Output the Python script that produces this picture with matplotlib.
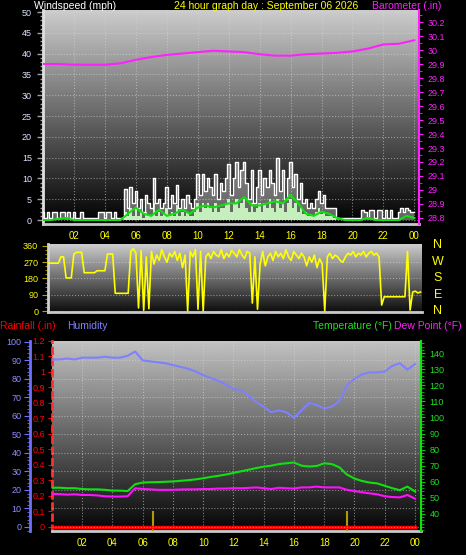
import numpy as np
import matplotlib
matplotlib.use('Agg')
import matplotlib.pyplot as plt
from matplotlib.ticker import MultipleLocator, FixedLocator, FuncFormatter

plt.rcParams['font.family'] = ['Liberation Sans', 'DejaVu Sans']

W, H = 466, 555

# ---- data -------------------------------------------------------------
# wind, 10 minute samples (6 per hour row)
wind_gust = [
    2, 0.5, 2, 0.5, 2, 2,
    0.5, 2, 2, 0.5, 2, 0.5,
    2, 0.5, 0.5, 2, 0.5, 0.5,
    0.5, 0.5, 0.5, 0.5, 2, 2,
    0.5, 2, 2, 0.5, 2, 0.5,
    0.5, 0.5, 7.5, 3, 8, 4,
    7, 3, 5, 2, 6, 4,
    3, 10, 4, 5, 3, 4,
    8, 3, 6, 4, 8.5, 3,
    5, 3, 6, 4, 3, 5,
    11, 6, 11, 7, 10, 8,
    6, 11, 5, 9, 7, 10,
    13.5, 6, 10, 14, 8, 12,
    14, 9, 5, 12, 4, 8,
    12, 6, 10, 8, 12, 9,
    6, 15, 7, 12, 5, 10,
    14, 8, 11, 5, 9, 4,
    5, 3, 4, 3, 5, 7,
    4, 6, 3, 3, 3, 3,
    0.5, 0.5, 0.5, 0.5, 0.5, 0.5,
    0.5, 0.5, 0.5, 0.5, 2.5, 2,
    0.5, 2.5, 2.5, 0.5, 2.5, 2.5,
    0.5, 2.5, 0.5, 2.5, 0.5, 0.5,
    2, 3, 2, 3, 2.5, 2,
    2]
wind_speed = [
    0, 0, 0, 0, 0, 0,
    0, 0, 0, 0, 0, 0,
    0, 0, 0, 0, 0, 0,
    0, 0, 0, 0, 0, 0,
    0, 0, 0, 0, 0, 0,
    0, 0, 2, 1, 3, 1,
    3, 1, 2, 0.5, 2, 1,
    1, 4, 1, 2, 1, 1.5,
    3, 1, 2, 1, 3.5, 1,
    2, 1, 2, 1, 1, 2,
    4, 2, 4, 3, 4, 3,
    2, 4, 2, 3, 3, 4,
    5, 2, 4, 5, 3, 4,
    5, 3, 2, 4, 2, 3,
    4, 2, 4, 3, 5, 3,
    2, 5, 3, 4, 2, 4,
    5, 3, 4, 2, 3, 1.5,
    2, 1, 1.5, 1, 2, 3,
    1.5, 2, 1, 1, 1, 0.5,
    0, 0, 0, 0, 0, 0,
    0, 0, 0, 0, 0, 0,
    0, 0, 0, 0, 0, 0,
    0, 0, 0, 0, 0, 0,
    0, 0, 0, 0, 0, 0,
    0]
# wind average, 30 minute samples
wind_avg = [0, 0, 0.3, 0.5, 0, 0, 0, 0, 0, 0, 0, 1.5, 3, 1.5, 1, 2.5,
            1, 1.5, 2.5, 1.5, 3, 3.5, 3, 3.5, 4, 4, 5.5, 3.5, 3.5, 4,
            4.5, 4, 6, 4, 1.5, 1, 2, 1.5, 0.5, 0, 0, 0, 0.5, 0, 0, 0,
            0, 1, 0.5]
# barometer, hourly
baro = [29.90, 29.90, 29.895, 29.895, 29.895, 29.905, 29.93, 29.95, 29.965,
        29.975, 29.985, 29.995, 29.99, 29.985, 29.97, 29.96, 29.96, 29.97,
        29.975, 29.98, 29.99, 30.01, 30.04, 30.045, 30.07]
# wind direction, 10 minute samples
wind_dir = [
    265, 265, 265, 265, 265, 300,
    300, 183, 183, 183, 315, 325,
    325, 325, 212, 212, 212, 212,
    212, 223, 223, 223, 223, 316,
    316, 316, 98, 98, 98, 98,
    98, 98, 330, 345, 320, 17,
    335, 4, 300, 13, 330, 260,
    310, 280, 340, 300, 270, 320,
    300, 330, 280, 320, 240, 310,
    0, 330, 300, 340, 10, 330,
    0, 300, 320, 290, 330, 310,
    300, 340, 290, 320, 300, 335,
    320, 300, 340, 310, 290, 330,
    320, 44, 300, 10, 260, 330,
    250, 300, 320, 280, 330, 300,
    320, 290, 340, 300, 280, 330,
    310, 290, 320, 300, 250, 300,
    270, 310, 240, 290, 260, 0,
    300, 320, 290, 310, 300, 280,
    270, 300, 320, 310, 330, 300,
    320, 310, 330, 300, 320, 330,
    310, 320, 300, 33, 79, 79,
    79, 79, 79, 79, 79, 79,
    79, 330, 5, 105, 110, 100,
    105]
# humidity / temperature / dew point, 30 minute samples
humidity = [90.5, 90.5, 91, 90.5, 91.5, 91.5, 91.5, 92, 91.5, 91.5, 92.5,
            94.8, 90, 89.5, 89, 88.5, 87.5, 86.5, 85.5, 84, 82, 80.5, 79,
            77, 74.5, 74, 71, 67.5, 65, 62, 63, 62, 59, 63, 67, 66, 64, 65,
            68, 76.5, 80, 82.5, 83.5, 83.5, 84, 87, 88.5, 85, 88]
temperature = [56.3, 56.3, 56, 56, 55.5, 55.3, 55.3, 55, 54.5, 54.5, 54.2,
               58.5, 59.5, 59.7, 59.8, 60, 60.2, 60.6, 61, 61.5, 62.2, 63,
               63.7, 64.5, 65.5, 66.5, 67.5, 68.5, 69.4, 70, 71, 71.5, 72,
               70, 69.5, 69.8, 71.5, 71, 69, 64.5, 62, 60.5, 59.5, 59, 57.5,
               56, 54.8, 57, 54]
dew_point = [52.5, 52.3, 52, 52.2, 51.8, 51.8, 51.5, 51, 50.8, 50.8, 51, 56,
             55.5, 55.3, 55, 55, 55, 55.2, 55.3, 55.3, 55.5, 55.5, 55.8,
             55.8, 56, 56, 56.2, 56.5, 56, 55.5, 56.3, 56, 55.8, 56.5, 56.5,
             57, 56.5, 56.5, 56.5, 55, 54.2, 53.5, 52.8, 52.2, 51, 50.5,
             50.3, 51.8, 49.5]
# rainfall, hourly total and two tip marks
rain = [0] * 25
rain_mark_hours = [6.65, 19.5]
rain_mark_values = [0.1, 0.1]

hour_ticks = list(range(2, 25, 2))
hour_labels = ['02', '04', '06', '08', '10', '12', '14', '16', '18', '20',
               '22', '00']

t10 = np.arange(len(wind_gust)) / 6.0
t30 = np.arange(len(wind_avg)) / 2.0
t60 = np.arange(len(baro))
tdir = np.arange(len(wind_dir)) / 6.0
tb30 = np.arange(len(humidity)) / 2.0
train = np.arange(len(rain))

short_fmt = FuncFormatter(lambda v, p: f'{round(v, 3):g}')


# ---- helpers ----------------------------------------------------------
def box(l, t, r, b):
    return [l / W, 1 - b / H, (r - l) / W, (b - t) / H]


def shade(ax, top, bottom):
    g = np.linspace(top, bottom, 256).reshape(-1, 1)
    ax.imshow(g, cmap='gray', vmin=0, vmax=1, aspect='auto',
              extent=[0, 1, 0, 1], transform=ax.transAxes, zorder=0)


def hours_axis(ax, show_labels):
    ax.set_xticks(hour_ticks)
    if show_labels:
        ax.set_xticklabels(hour_labels)
    else:
        ax.set_xticklabels([])
    ax.tick_params(axis='x', length=0, pad=5, labelsize=7,
                   labelcolor='yellow')


fig = plt.figure(figsize=(W / 100, H / 100), dpi=100, facecolor='black')
grid_kw = dict(color='#d8d8d8', ls=':', lw=0.8, alpha=0.55)
title_size = 7.5

# ---- top panel: wind + barometer --------------------------------------
axw = fig.add_axes(box(43, 10, 419, 224))
axw.set_facecolor('black')
shade(axw, 0.80, 0.0)
axw.fill_between(t10, 0, wind_gust, step='mid', color='#d8d8d8', alpha=0.45,
                 lw=0, zorder=2)
axw.fill_between(t10, 0, wind_speed, step='mid', color='#c6efbe', lw=0,
                 zorder=2)
axw.plot(t10, wind_gust, drawstyle='steps-mid', color='white', lw=1,
         zorder=3)
axw.plot(t30, wind_avg, color='#10e010', lw=1.5, zorder=4)
axw.set_xlim(0, 24.3)
axw.set_ylim(-0.96, 50.5)
axw.yaxis.set_major_locator(MultipleLocator(5))
axw.yaxis.set_minor_locator(MultipleLocator(1))
axw.tick_params(axis='y', which='both', colors='#a0a0a0', labelsize=6.5,
                labelcolor='#dde6ff', length=4, width=1, pad=4)
axw.tick_params(axis='y', which='minor', length=2)
hours_axis(axw, True)
axw.grid(True, **grid_kw)
for s in ['top', 'right']:
    axw.spines[s].set_visible(False)
axw.spines['left'].set_color('#e0e0e0')
axw.spines['left'].set_linewidth(2)
axw.spines['bottom'].set_color('#c8c8c8')
axw.spines['bottom'].set_linewidth(2)

axp = axw.twinx()
axp.plot(t60, baro, color='#ff20ff', lw=1.5)
axp.set_ylim(28.757, 30.286)
axp.yaxis.set_major_locator(MultipleLocator(0.1))
axp.yaxis.set_minor_locator(MultipleLocator(0.05))
axp.yaxis.set_major_formatter(short_fmt)
axp.tick_params(axis='y', which='both', colors='#ff20ff', labelsize=6.5,
                length=3, pad=3)
axp.tick_params(axis='y', which='minor', length=2)
for s in ['top', 'left', 'bottom']:
    axp.spines[s].set_visible(False)
axp.spines['right'].set_color('#ff20ff')
axp.spines['right'].set_linewidth(1.5)

fig.text(34 / W, 1 - 6 / H, 'Windspeed (mph)', color='white',
         fontsize=title_size, va='center')
fig.text(266 / W, 1 - 6 / H, '24 hour graph day : September 06 2026',
         color='yellow', fontsize=title_size, va='center', ha='center')
fig.text(372 / W, 1 - 6 / H, 'Barometer (.in)', color='#ff20ff',
         fontsize=title_size, va='center')

# ---- middle panel: wind direction -------------------------------------
axd = fig.add_axes(box(48, 244, 422, 312))
axd.set_facecolor('black')
shade(axd, 0.80, 0.05)
axd.plot(tdir, wind_dir, color='yellow', lw=1.2, zorder=3)
axd.set_xlim(0, 24.1)
axd.set_ylim(-5.5, 371)
axd.yaxis.set_major_locator(FixedLocator([0, 90, 180, 270, 360]))
axd.yaxis.set_minor_locator(MultipleLocator(22.5))
axd.tick_params(axis='y', which='both', colors='#b0a000', labelsize=6.5,
                labelcolor='yellow', length=4, pad=3)
axd.tick_params(axis='y', which='minor', length=2)
axd.set_xticks(hour_ticks)
axd.tick_params(axis='x', length=0, labelbottom=False)
axd.grid(True, axis='y', **grid_kw)
for s in ['top', 'right']:
    axd.spines[s].set_visible(False)
axd.spines['left'].set_color('#d0d0d0')
axd.spines['left'].set_linewidth(2)
axd.spines['bottom'].set_color('#c8c8c8')
axd.spines['bottom'].set_linewidth(2)
for lab, yp in zip(['N', 'W', 'S', 'E', 'N'], [245, 262, 278, 295, 311]):
    fig.text(438 / W, 1 - yp / H, lab, color='yellow', fontsize=9,
             ha='center', va='center')

# ---- bottom panel: rain, humidity, temperature --------------------------
axb = fig.add_axes(box(52, 341, 421, 531))
axb.set_facecolor('black')
shade(axb, 0.76, 0.02)
axb.plot(train, rain, color='red', lw=2.5, zorder=4)
axb.vlines(rain_mark_hours, -0.03, rain_mark_values, color='#b09a00',
           lw=1.5, zorder=3)
axb.set_xlim(0, 24.4)
axb.set_ylim(-0.026, 1.2)
axb.yaxis.set_major_locator(MultipleLocator(0.1))
axb.yaxis.set_major_formatter(short_fmt)
axb.tick_params(axis='y', colors='red', labelsize=6.5, length=3, pad=2)
hours_axis(axb, True)
axb.grid(True, axis='x', **grid_kw)
for s in ['top', 'right']:
    axb.spines[s].set_visible(False)
axb.spines['left'].set_color('#ff3030')
axb.spines['left'].set_linestyle((0, (2, 2)))
axb.spines['left'].set_linewidth(2)
axb.spines['bottom'].set_color('#c8c8c8')
axb.spines['bottom'].set_linewidth(2)

axh = axb.twinx()
axh.plot(tb30, humidity, color='#8080ff', lw=1.5)
axh.set_ylim(-2.2, 100.5)
axh.yaxis.tick_left()
axh.spines['left'].set_visible(True)
axh.spines['left'].set_position(('outward', 16))
axh.spines['left'].set_color('#7070ff')
axh.spines['left'].set_linewidth(2)
for s in ['top', 'right', 'bottom']:
    axh.spines[s].set_visible(False)
axh.yaxis.set_major_locator(MultipleLocator(10))
axh.yaxis.set_minor_locator(MultipleLocator(2))
axh.tick_params(axis='y', which='both', colors='#7070ff', labelsize=6.5,
                labelcolor='#8c8cff', length=4, pad=2)
axh.tick_params(axis='y', which='minor', length=2)
axh.grid(True, axis='y', **grid_kw)

axt = axb.twinx()
axt.plot(tb30, temperature, color='#10e010', lw=1.5)
axt.plot(tb30, dew_point, color='#ff10ff', lw=1.5)
axt.set_ylim(29.4, 147.5)
axt.yaxis.set_major_locator(FixedLocator(range(40, 150, 10)))
axt.yaxis.set_minor_locator(MultipleLocator(2))
axt.tick_params(axis='y', which='both', colors='#10c010', labelsize=6.5,
                labelcolor='#20e020', length=3, pad=3)
axt.tick_params(axis='y', which='minor', length=2)
for s in ['top', 'left', 'bottom']:
    axt.spines[s].set_visible(False)
axt.spines['right'].set_color('#10e010')
axt.spines['right'].set_linewidth(1.5)

fig.text(0 / W, 1 - 326 / H, 'Rainfall (.in)', color='red',
         fontsize=title_size, va='center')
fig.text(67 / W, 1 - 326 / H, 'Humidity', color='#8080ff',
         fontsize=title_size, va='center')
fig.text(313 / W, 1 - 326 / H, 'Temperature (\u00b0F)', color='#20e020',
         fontsize=title_size, va='center')
fig.text(462 / W, 1 - 326 / H, 'Dew Point (\u00b0F)', color='#ff20ff',
         fontsize=title_size, va='center', ha='right')

fig.savefig('out.png', dpi=100, facecolor='black')
